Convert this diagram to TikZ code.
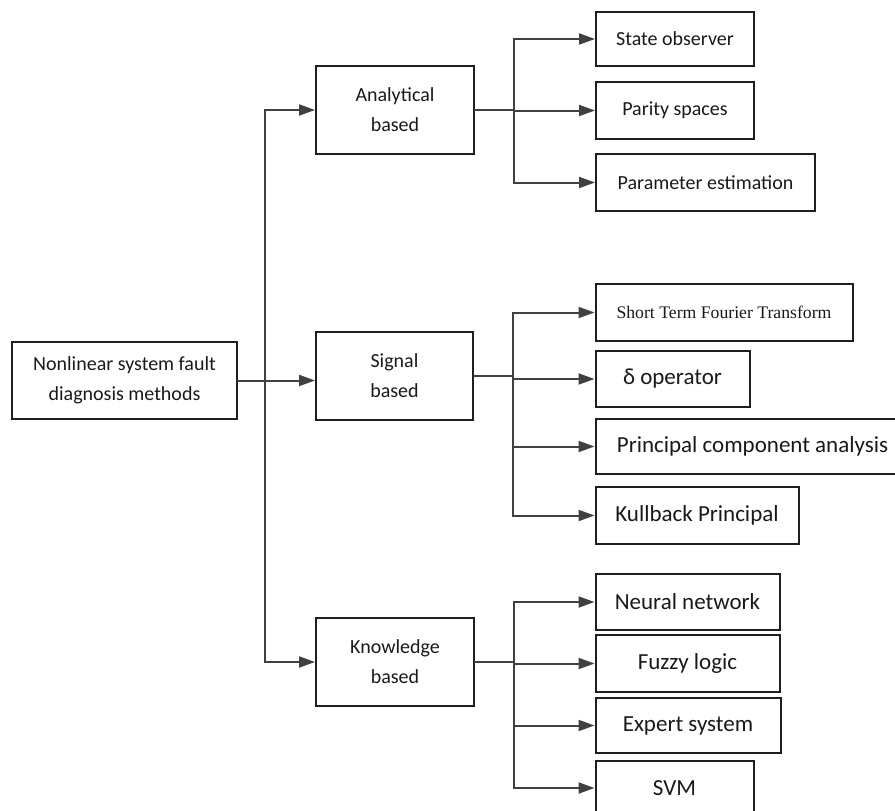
\documentclass[tikz,border=0pt]{standalone}
\usepackage{fontspec}
\setmainfont{Carlito}
\newfontfamily\stftserif{Liberation Serif}
\usetikzlibrary{arrows.meta,positioning}

\tikzset{
  box/.style={draw=black!88,line width=2pt,inner sep=0pt,align=center,
    text=black!90,font=\fontsize{20}{30}\selectfont},
  big/.style={font=\fontsize{23}{28}\selectfont},
  link/.style={draw=black!75,line width=2pt,line cap=rect},
  tip/.style={link,-{Triangle[length=16pt,width=11pt]}}
}

\begin{document}
\begin{tikzpicture}[x=1pt,y=-1pt]
  \useasboundingbox (0,0) rectangle (895,811);
  \clip (0,0) rectangle (895,811);
  \node[box,minimum width=225pt,minimum height=77pt] (root) at (124.5,380.5)
    {Nonlinear system fault\\diagnosis methods};
  \node[box,minimum width=158pt,minimum height=88pt] (ana) at (395,110) {Analytical\\based};
  \node[box,minimum width=157pt,minimum height=88pt] (sig) at (394.5,376) {Signal\\based};
  \node[box,minimum width=158pt,minimum height=88pt] (kno) at (395,662) {Knowledge\\based};
  \foreach \n/\y/\w/\h/\t in {so/39/158/54/State observer, ps/110.5/158/57/Parity spaces,
      pe/182.5/219/57/Parameter estimation}
    \node[box,anchor=west,minimum width=\w pt,minimum height=\h pt] (\n) at (595,\y) {\t};
  \foreach \n/\y/\w/\h/\t in {stft/312.5/257/57/{\stftserif\fontsize{17.7}{20}\selectfont Short Term Fourier Transform},
      delta/379/154/56/δ operator, pca/446.5/314/55/Principal component analysis,
      kl/515.5/203/57/Kullback Principal, nn/602/184/56/Neural network,
      fl/663.5/184/57/Fuzzy logic, es/725.5/185/55/Expert system, svm/788/158/54/SVM}
    \node[box,big,anchor=west,minimum width=\w pt,minimum height=\h pt] (\n) at (594.5,\y) {\t};

  \coordinate[right=27pt of root.east] (trunk);
  \draw[link] (trunk |- ana.west) -- (trunk |- kno.west);
  \draw[tip] (root.east) -- (sig.west |- root.east);
  \draw[tip] (trunk |- ana.west) -- (ana.west);
  \draw[tip] (trunk |- kno.west) -- (kno.west);
  \foreach \p/\first/\last/\kids in {ana/so/pe/{so,ps,pe}, sig/stft/kl/{stft,delta,pca,kl},
      kno/nn/svm/{nn,fl,es,svm}} {
    \draw[link] (\p.east) -- ++(39,0) coordinate (\p bus);
    \draw[link] (\p bus |- \first.west) -- (\p bus |- \last.west);
    \foreach \k in \kids \draw[tip] (\p bus |- \k.west) -- (\k.west);
  }
\end{tikzpicture}
\end{document}
